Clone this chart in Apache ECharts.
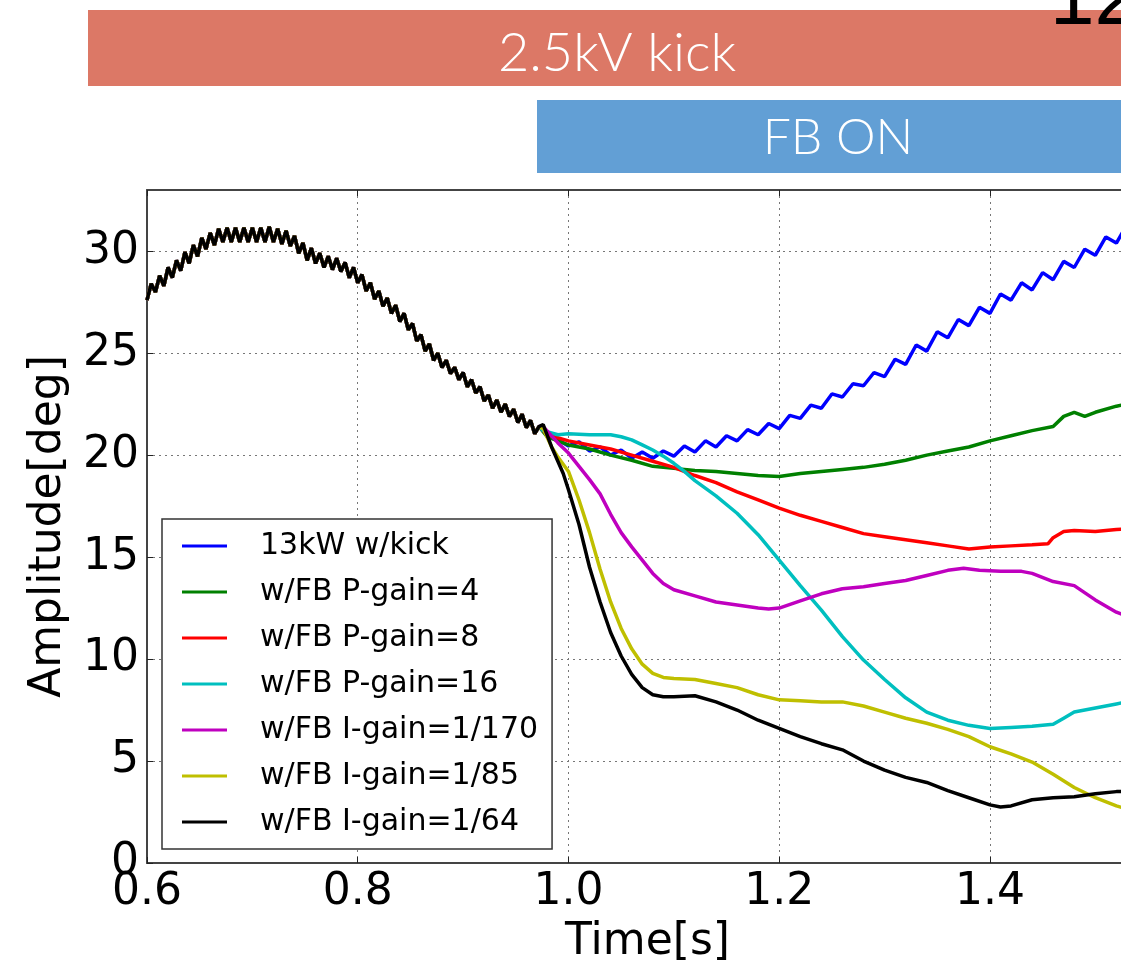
<!DOCTYPE html>
<html>
<head>
<meta charset="utf-8">
<script src="https://cdn.jsdelivr.net/npm/echarts@6/dist/echarts.min.js"></script>
<style>
  html, body { margin: 0; padding: 0; background: #fff; }
  #chart { width: 1121px; height: 966px; }
</style>
</head>
<body>
<div id="chart"></div>
<script>
const chart = echarts.init(document.getElementById("chart"));

// shared part before the kick, all seven traces lie on top of each other
const sharedTime = [0.600,0.604,0.608,0.612,0.616,0.620,0.624,0.628,0.632,0.636,
	0.640,0.644,0.648,0.652,0.656,0.660,0.664,0.668,0.672,0.676,
	0.680,0.684,0.688,0.692,0.696,0.700,0.704,0.708,0.712,0.716,
	0.720,0.724,0.728,0.732,0.736,0.740,0.744,0.748,0.752,0.756,
	0.760,0.764,0.768,0.772,0.776,0.780,0.784,0.788,0.792,0.796,
	0.800,0.804,0.808,0.812,0.816,0.820,0.824,0.828,0.832,0.836,
	0.840,0.844,0.848,0.852,0.856,0.860,0.864,0.868,0.872,0.876,
	0.880,0.884,0.888,0.892,0.896,0.900,0.904,0.908,0.912,0.916,
	0.920,0.924,0.928,0.932,0.936,0.940,0.944,0.948,0.952,0.956,
	0.960,0.964,0.968,0.972];
const sharedAmp = [27.6,28.4,28.0,28.8,28.3,29.2,28.7,29.55,29.05,29.95,
	29.4,30.3,29.75,30.65,30.1,30.9,30.3,31.1,30.45,31.15,
	30.45,31.15,30.45,31.15,30.45,31.15,30.45,31.15,30.45,31.2,
	30.45,31.1,30.35,31.0,30.25,30.75,29.9,30.4,29.55,30.15,
	29.4,29.9,29.2,29.75,29.1,29.65,29.0,29.45,28.7,29.2,
	28.45,28.85,28.05,28.45,27.65,28.05,27.3,27.7,26.95,27.35,
	26.55,26.95,26.15,26.45,25.6,25.9,25.1,25.45,24.65,25.0,
	24.3,24.65,24.0,24.3,23.7,24.05,23.35,23.7,23.05,23.35,
	22.65,22.95,22.3,22.7,22.1,22.5,21.9,22.25,21.6,22.0,
	21.35,21.7,21.05,21.4];

// tails after the traces split up: [time, amplitude]
const kickTail = [[0.98,21.0],[0.99,20.75],[1.00,20.45],[1.01,20.65],[1.02,20.2],[1.03,20.4],
	[1.04,20.0],[1.05,20.25],[1.06,19.85],[1.07,20.15],[1.08,19.85],[1.09,20.2],
	[1.10,19.95],[1.11,20.45],[1.12,20.15],[1.13,20.7],[1.14,20.4],[1.15,20.95],
	[1.16,20.7],[1.17,21.25],[1.18,21.0],[1.19,21.55],[1.20,21.3],[1.21,21.95],
	[1.22,21.8],[1.23,22.45],[1.24,22.3],[1.25,23.0],[1.26,22.85],[1.27,23.5],
	[1.28,23.4],[1.29,24.05],[1.30,23.85],[1.31,24.7],[1.32,24.45],[1.33,25.4],
	[1.34,25.1],[1.35,26.05],[1.36,25.75],[1.37,26.65],[1.38,26.35],[1.39,27.25],
	[1.40,26.95],[1.41,27.9],[1.42,27.6],[1.43,28.45],[1.44,28.1],[1.45,28.95],
	[1.46,28.6],[1.47,29.5],[1.48,29.2],[1.49,30.1],[1.50,29.8],[1.51,30.7],
	[1.52,30.4],[1.53,31.3],[1.54,31.0]];
const p4Tail = [[0.98,20.9],[1.00,20.5],[1.02,20.3],[1.04,20.0],[1.06,19.75],[1.08,19.45],
	[1.10,19.35],[1.12,19.25],[1.14,19.2],[1.16,19.1],[1.18,19.0],[1.20,18.95],
	[1.22,19.1],[1.24,19.2],[1.26,19.3],[1.28,19.4],[1.30,19.55],[1.32,19.75],
	[1.34,20.0],[1.36,20.2],[1.38,20.4],[1.40,20.7],[1.42,20.95],[1.44,21.2],
	[1.46,21.4],[1.47,21.9],[1.48,22.1],[1.49,21.9],[1.50,22.1],[1.52,22.4],[1.54,22.6]];
const p8Tail = [[0.98,21.0],[1.00,20.7],[1.02,20.5],[1.04,20.3],[1.06,20.0],[1.08,19.7],
	[1.10,19.4],[1.12,19.0],[1.14,18.65],[1.16,18.2],[1.18,17.8],[1.20,17.4],
	[1.22,17.05],[1.24,16.75],[1.26,16.45],[1.28,16.15],[1.30,16.0],[1.32,15.85],
	[1.34,15.7],[1.36,15.55],[1.38,15.4],[1.40,15.5],[1.42,15.55],[1.44,15.6],
	[1.455,15.65],[1.46,15.95],[1.47,16.25],[1.48,16.3],[1.50,16.25],[1.52,16.35],[1.54,16.4]];
const p16Tail = [[0.976,21.2],[0.99,21.0],[1.00,21.05],[1.02,21.0],[1.04,21.0],[1.05,20.9],
	[1.06,20.75],[1.07,20.5],[1.08,20.25],[1.09,19.95],[1.10,19.6],[1.11,19.2],
	[1.12,18.75],[1.14,18.0],[1.16,17.15],[1.18,16.1],[1.20,14.85],[1.22,13.6],
	[1.24,12.4],[1.26,11.1],[1.28,9.95],[1.30,9.0],[1.32,8.1],[1.34,7.4],
	[1.36,7.0],[1.38,6.75],[1.40,6.6],[1.42,6.65],[1.44,6.7],[1.46,6.8],
	[1.47,7.1],[1.48,7.4],[1.50,7.6],[1.52,7.8],[1.54,8.0]];
const i170Tail = [[0.976,21.4],[0.99,20.6],[1.00,20.1],[1.01,19.45],[1.02,18.8],[1.03,18.1],
	[1.04,17.1],[1.05,16.2],[1.06,15.5],[1.07,14.85],[1.08,14.2],[1.09,13.7],
	[1.10,13.4],[1.12,13.1],[1.14,12.8],[1.16,12.65],[1.18,12.5],[1.19,12.45],
	[1.20,12.5],[1.22,12.85],[1.24,13.2],[1.26,13.45],[1.28,13.55],[1.30,13.7],
	[1.32,13.85],[1.34,14.1],[1.36,14.35],[1.375,14.45],[1.39,14.35],[1.41,14.3],
	[1.43,14.3],[1.44,14.2],[1.46,13.8],[1.48,13.6],[1.50,12.9],[1.52,12.3],[1.54,11.9]];
const i85Tail = [[0.976,21.3],[0.984,20.4],[0.99,19.9],[1.00,19.2],[1.01,17.8],[1.02,16.2],
	[1.03,14.4],[1.04,12.8],[1.05,11.5],[1.06,10.5],[1.07,9.75],[1.08,9.3],
	[1.09,9.1],[1.10,9.05],[1.12,9.0],[1.14,8.8],[1.16,8.6],[1.18,8.25],
	[1.20,8.0],[1.22,7.95],[1.24,7.9],[1.26,7.9],[1.28,7.7],[1.30,7.4],
	[1.32,7.1],[1.34,6.85],[1.36,6.55],[1.38,6.2],[1.40,5.7],[1.42,5.35],
	[1.44,4.95],[1.46,4.35],[1.48,3.7],[1.50,3.2],[1.52,2.8],[1.54,2.5]];
const i64Tail = [[0.976,21.5],[0.984,20.4],[0.995,19.1],[1.00,18.3],[1.01,16.6],[1.02,14.5],
	[1.03,12.8],[1.04,11.3],[1.05,10.15],[1.06,9.25],[1.07,8.6],[1.08,8.25],
	[1.09,8.15],[1.10,8.15],[1.12,8.2],[1.14,7.9],[1.16,7.5],[1.18,7.0],
	[1.20,6.6],[1.22,6.2],[1.24,5.85],[1.26,5.55],[1.28,5.0],[1.30,4.55],
	[1.32,4.2],[1.34,3.95],[1.36,3.55],[1.38,3.2],[1.40,2.85],[1.41,2.75],
	[1.42,2.8],[1.44,3.1],[1.46,3.2],[1.48,3.25],[1.50,3.4],[1.52,3.5],[1.54,3.5]];

const names = ["13kW w/kick", "w/FB P-gain=4", "w/FB P-gain=8", "w/FB P-gain=16",
	"w/FB I-gain=1/170", "w/FB I-gain=1/85", "w/FB I-gain=1/64"];
const colors = ["#0000ff", "#008000", "#ff0000", "#00bfbf", "#bf00bf", "#bfbf00", "#000000"];
const tails = [kickTail, p4Tail, p8Tail, p16Tail, i170Tail, i85Tail, i64Tail];

const shared = sharedTime.map((t, i) => [t, sharedAmp[i]]);

const FONT = "DejaVu Sans";

const xAxisBase = {
	type: "value",
	min: 0.6,
	max: 1.55,
	interval: 0.2,
	axisLine: { show: true, lineStyle: { color: "#444", width: 2 } },
	axisTick: { show: true, inside: true, length: 6, lineStyle: { color: "#222", width: 1 } },
	splitLine: { show: false }
};

option = {
	animation: false,
	backgroundColor: "#fff",
	grid: {
		left: 147,
		right: -27,
		top: 190,
		bottom: 103,
		containLabel: false,
		outerBoundsMode: "none"
	},
	legend: {
		orient: "vertical",
		left: 162,
		top: 519,
		padding: [12, 14, 12, 20],
		itemGap: 16,
		itemWidth: 45,
		itemHeight: 3,
		icon: "rect",
		backgroundColor: "#fff",
		borderColor: "#333",
		borderWidth: 1.5,
		borderRadius: 0,
		data: names,
		textStyle: {
			fontFamily: FONT,
			fontSize: 30,
			lineHeight: 30,
			color: "#000",
			padding: [0, 0, 0, 28]
		}
	},
	xAxis: [Object.assign({}, xAxisBase, {
		position: "bottom",
		name: "Time[s]",
		nameLocation: "middle",
		nameGap: 58,
		nameTextStyle: { fontFamily: FONT, fontSize: 44, color: "#000" },
		axisLabel: {
			fontFamily: FONT, fontSize: 44, color: "#000", margin: 8,
			formatter: v => (Math.abs(v - 1.55) < 1e-6 ? "" : v.toFixed(1))
		},
		splitLine: { show: true, lineStyle: { color: "#777", width: 1, type: [2, 4] } }
	}), Object.assign({}, xAxisBase, {
		position: "top",
		axisLabel: { show: false }
	})],
	yAxis: {
		type: "value",
		min: 0,
		max: 33,
		interval: 5,
		name: "Amplitude[deg]",
		nameLocation: "middle",
		nameGap: 76,
		nameTextStyle: { fontFamily: FONT, fontSize: 44, color: "#000" },
		axisLine: { show: true, lineStyle: { color: "#444", width: 2 } },
		axisTick: { show: true, inside: true, length: 6, lineStyle: { color: "#222", width: 1 } },
		axisLabel: {
			fontFamily: FONT, fontSize: 44, color: "#000", margin: 8,
			showMaxLabel: false,
			formatter: v => (v > 30 ? "" : String(v))
		},
		splitLine: { show: true, lineStyle: { color: "#777", width: 1, type: [2, 4] } }
	},
	graphic: [
		{ type: "rect", left: 88, top: 10, shape: { width: 1100, height: 76 }, style: { fill: "#dc7866" } },
		{ type: "text", x: 617, y: 54, style: { text: "2.5kV kick", fill: "#fff", font: "300 54px Lato", textAlign: "center", textVerticalAlign: "middle" } },
		{ type: "rect", left: 537, top: 100, shape: { width: 650, height: 73 }, style: { fill: "#629fd5" } },
		{ type: "text", x: 838, y: 138, style: { text: "FB ON", fill: "#fff", font: "300 50px Lato", textAlign: "center", textVerticalAlign: "middle" } },
		{ type: "text", x: 1050, y: 2, style: { text: "12", fill: "#000", font: "80px 'Liberation Sans'", textAlign: "left", textVerticalAlign: "middle" } }
	],
	series: names.map((name, i) => ({
		name: name,
		type: "line",
		xAxisIndex: 0,
		symbol: "none",
		data: shared.concat(tails[i]),
		lineStyle: { color: colors[i], width: 3.5 },
		itemStyle: { color: colors[i] }
	}))
};

chart.setOption(option);
window.onresize = chart.resize;
</script>
</body>
</html>
